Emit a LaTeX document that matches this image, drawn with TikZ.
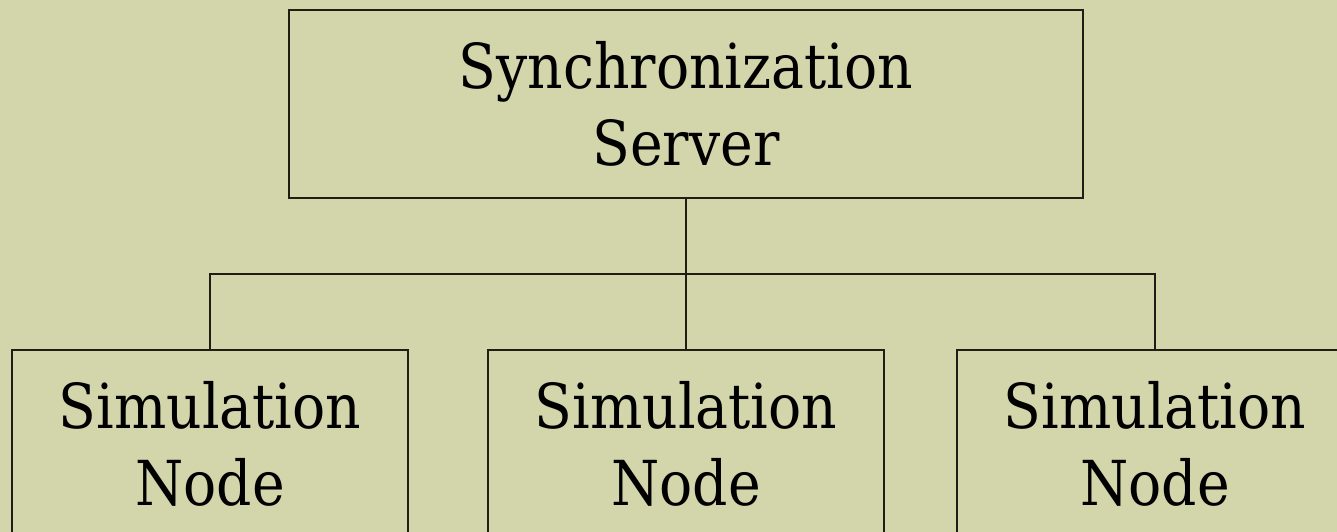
\documentclass[tikz,border=0pt]{standalone}
\usepackage{fontspec}
\setmainfont[FakeStretch=0.89]{DejaVu Serif}
\definecolor{paper}{HTML}{D3D6AB}
\definecolor{edge}{HTML}{1E1E14}
\begin{document}
\begin{tikzpicture}[x=1bp,y=-1bp,
  box/.style={draw=edge, line width=1.3bp, rectangle, inner sep=0pt,
    minimum width=794bp, minimum height=188bp, align=center,
    font=\fontsize{62bp}{77bp}\selectfont},
  simbox/.style={box, minimum width=396bp},
  link/.style={draw=edge, line width=1.3bp}]
\useasboundingbox (0,0) rectangle (1337,532);
\fill[paper] (0,0) rectangle (1337,532);
\clip (0,0) rectangle (1337,532);
% server and the three simulation nodes
\node[box] (server) at (686,104) {Synchronization\\Server};
\node[simbox] (simA) at (210,444) {Simulation\\Node};
\node[simbox] (simB) at (686,444) {Simulation\\Node};
\node[simbox] (simC) at (1155,444) {Simulation\\Node};
% tree connector
\coordinate (fork) at (686,274);
\draw[link] (server.south) -- (fork);
\draw[link] (simA.north) |- (fork) -| (simC.north);
\draw[link] (fork) -- (simB.north);
\end{tikzpicture}
\end{document}
